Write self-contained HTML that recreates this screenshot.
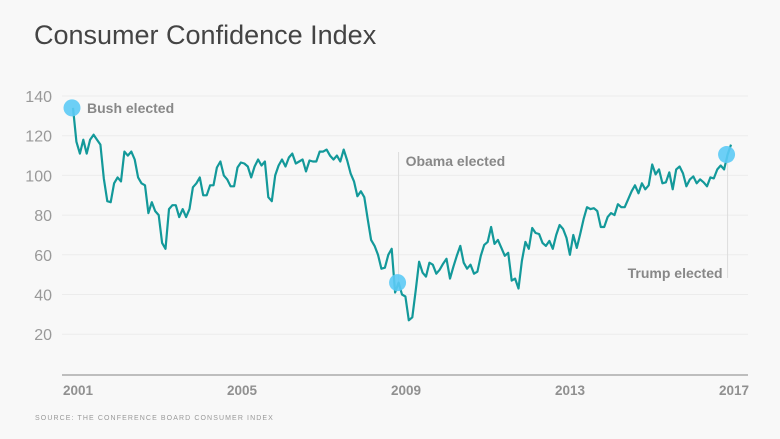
<!DOCTYPE html>
<html><head><meta charset="utf-8"><style>
body{margin:0;background:#f8f8f8;}
svg{display:block;font-family:"Liberation Sans",sans-serif;}
</style></head><body>
<svg id="chart" width="780" height="439" viewBox="0 0 780 439">
<rect width="780" height="439" fill="#f8f8f8"/>
<text x="34" y="44" font-size="27" fill="#444">Consumer Confidence Index</text>
<g id="grid"></g>
<g id="yticks"></g>
<g id="xticks"></g>
<line x1="62" y1="375" x2="748" y2="375" stroke="#aaa" stroke-width="1.5"/>
<g id="annot"></g>
<path id="series" fill="none" stroke="#13999a" stroke-width="2.2" stroke-linejoin="round"/>
<g id="dots"></g>
<text x="35" y="420" font-size="7" fill="#999" letter-spacing="1.1">SOURCE: THE CONFERENCE BOARD CONSUMER INDEX</text>
</svg>
<script>
const yTickValues=[140,120,100,80,60,40,20];
const xTickYears=[2001,2005,2009,2013,2017];
const indexValues=[134,
117,111,118,111,118,120.5,118,115.5,98.5,87,86.5,96,
99,97,112,110,112,108,99,96,95,81,86.5,82,
80,66,63,83,85,85,79,83,79,83,94,96,
99,90,90,95,95,104,107,100,98,94.5,94.5,104,
106.5,106,104.5,99,104.5,108,105,107,89,87,100,105,
108,104.5,109,111,106,107,108,102,107.5,107,107,112,
112,113,110,108,110,107,113,107.5,101,97,89.5,92,
89,78,67.5,64.5,60,53,53.5,60,63,41,46,40,
39,27,28.5,42,56.5,51,49,56,55,50.5,52.5,55.5,
58,48,54,59.5,64.5,56,53,55,50.5,51.5,59.5,65,
66.5,74,65.5,67.5,63.5,59.5,61,47,48,43,57,66.5,
63,73.5,71,70.5,66,64.5,67,63,70,75,73,68.5,
60,70,63.5,70.5,78,84,83,83.5,82,74,74,79,
81,80,85.5,84,84,88,92,95,91,96,93,95,
105.5,100.5,103,96,96.5,101.5,93,103,104.5,101,94.5,98,
99.5,96,98,96.5,94.5,99,98.5,103,105,103,110.5,115.5];
const eventNames=["Bush elected","Obama elected","Trump elected"];
const eventIndex=[0,95,191];

const NS="http://www.w3.org/2000/svg";
function yScale(v){return 96+(140-v)*1.985;}
function xScale(i){return 73+i*3.427;}
function yearLabelX(y){return 78+(y-2001)*41.0;}
function mk(tag,attrs,parent,text){const e=document.createElementNS(NS,tag);for(const k in attrs)e.setAttribute(k,attrs[k]);if(text!==undefined)e.textContent=text;parent.appendChild(e);return e;}

const grid=document.getElementById('grid'),yt=document.getElementById('yticks'),xt=document.getElementById('xticks');
yTickValues.forEach(v=>{
  const l=mk('line',{x1:62,x2:748,y1:yScale(v),y2:yScale(v),stroke:'#ececec','stroke-width':1},grid);
  
  
  const t=mk('text',{x:52,y:yScale(v)+6,'text-anchor':'end','font-size':16,fill:'#999'},yt,String(v));
  
  
});
xTickYears.forEach(y=>{
  const t=mk('text',{x:yearLabelX(y),y:395,'text-anchor':'middle','font-size':13.5,'font-weight':'bold',fill:'#909090'},xt,String(y));
  
  
});
document.getElementById('series').setAttribute('d',indexValues.map((v,i)=>(i?'L':'M')+xScale(i).toFixed(1)+' '+yScale(v).toFixed(1)).join(' '));

const an=document.getElementById('annot'),dots=document.getElementById('dots');
const ox=xScale(eventIndex[1]);
let e=mk('line',{x1:ox,x2:ox,y1:152,y2:yScale(indexValues[eventIndex[1]]),stroke:'#ddd','stroke-width':1},an);


e=mk('text',{x:ox+7,y:166,'font-size':14,'font-weight':'bold',fill:'#888'},an,eventNames[1]);


const tx=xScale(eventIndex[2]);
e=mk('line',{x1:tx,x2:tx,y1:yScale(indexValues[eventIndex[2]]),y2:278,stroke:'#ddd','stroke-width':1},an);


e=mk('text',{x:tx-5,y:278,'text-anchor':'end','font-size':14,'font-weight':'bold',fill:'#888'},an,eventNames[2]);


e=mk('text',{x:87,y:113,'font-size':14,'font-weight':'bold',fill:'#888'},an,eventNames[0]);


eventIndex.forEach((idx,k)=>{
  const c=mk('circle',{cx:xScale(idx)-1,cy:yScale(indexValues[idx]),r:8.5,fill:'#5ccaf5','fill-opacity':0.9},dots);
  
  
});
</script>
</body></html>
